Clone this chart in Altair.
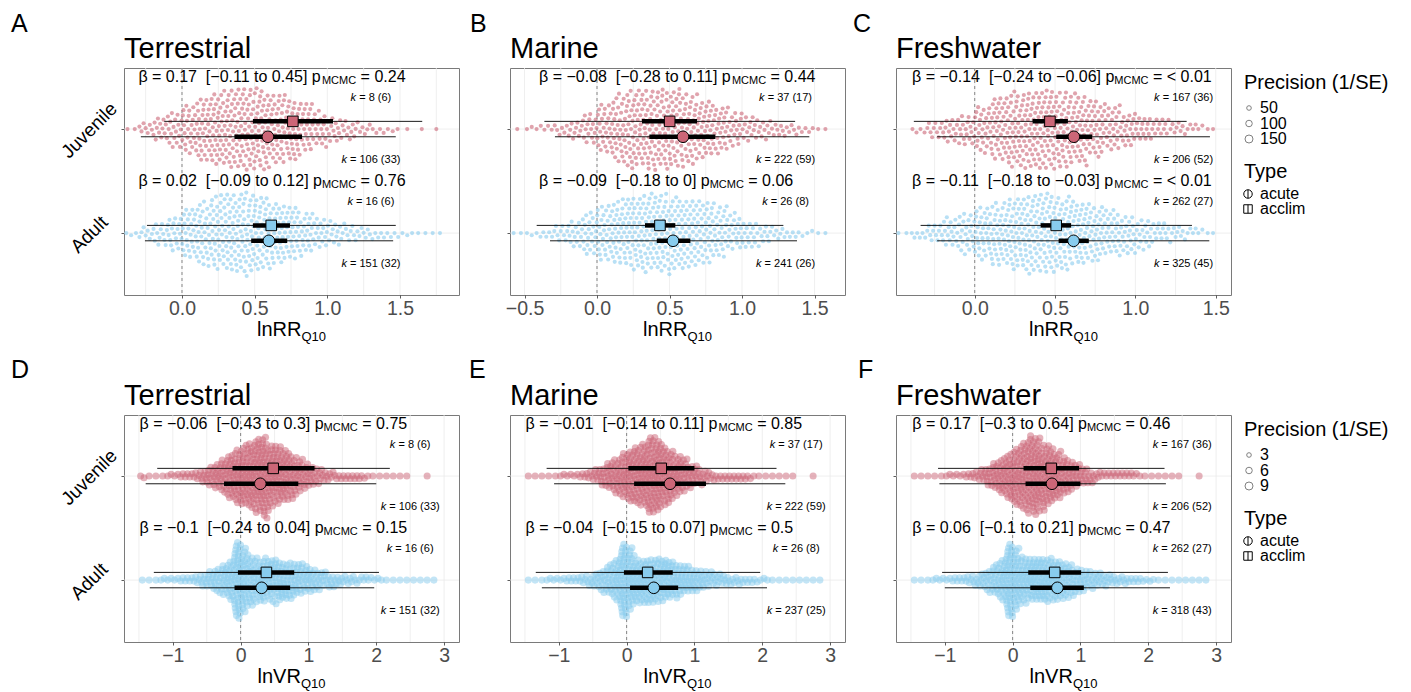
import altair as alt
import numpy as np
import pandas as pd

FONT = "Liberation Sans"

# ---------------- values ----------------
panel_letters = ["A", "B", "C", "D", "E", "F"]
habitats = ["Terrestrial", "Marine", "Freshwater", "Terrestrial", "Marine", "Freshwater"]
measures = ["lnRR", "lnRR", "lnRR", "lnVR", "lnVR", "lnVR"]
ages = ["Juvenile", "Adult"]
age_rows = [2, 1]

x_domains = [[-0.399, 1.906], [-0.600, 1.710], [-0.490, 1.595],
             [-1.72, 3.22], [-1.72, 3.22], [-1.72, 3.22]]
x_tick_values = [[0, 0.5, 1, 1.5], [-0.5, 0, 0.5, 1, 1.5], [0, 0.5, 1, 1.5],
                 [-1, 0, 1, 2, 3], [-1, 0, 1, 2, 3], [-1, 0, 1, 2, 3]]
grid_top_A = [-0.25, 0, 0.25, 0.5, 0.75, 1, 1.25, 1.5, 1.75]
grid_top_B = [-0.5, -0.25, 0, 0.25, 0.5, 0.75, 1, 1.25, 1.5]
grid_top_C = [-0.25, 0, 0.25, 0.5, 0.75, 1, 1.25, 1.5]
grid_bottom = [-1.5, -1, -0.5, 0, 0.5, 1, 1.5, 2, 2.5, 3]

# estimate, CI low, CI high, PI low, PI high  (panels A..F)
juv_acclim = [[0.763, 0.488, 1.039, -0.122, 1.653],
              [0.501, 0.310, 0.690, -0.363, 1.366],
              [0.468, 0.360, 0.580, -0.379, 1.319],
              [0.48, -0.12, 1.09, -1.23, 2.20],
              [0.51, 0.025, 1.00, -1.18, 2.21],
              [0.57, 0.16, 0.98, -1.10, 2.24]]
juv_acute = [[0.591, 0.361, 0.826, -0.283, 1.471],
             [0.593, 0.361, 0.816, -0.290, 1.464],
             [0.617, 0.507, 0.731, -0.234, 1.464],
             [0.29, -0.245, 0.85, -1.40, 2.00],
             [0.64, 0.11, 1.17, -1.07, 2.34],
             [0.58, 0.19, 1.00, -1.08, 2.26]]
adult_acclim = [[0.614, 0.488, 0.743, -0.241, 1.471],
                [0.434, 0.331, 0.540, -0.416, 1.285],
                [0.507, 0.410, 0.600, -0.337, 1.352],
                [0.38, -0.04, 0.79, -1.28, 2.04],
                [0.31, -0.04, 0.68, -1.34, 1.97],
                [0.62, 0.23, 1.01, -1.04, 2.29]]
adult_acute = [[0.598, 0.476, 0.724, -0.255, 1.453],
               [0.524, 0.412, 0.644, -0.324, 1.379],
               [0.615, 0.522, 0.710, -0.234, 1.460],
               [0.31, -0.09, 0.73, -1.34, 1.97],
               [0.40, 0.05, 0.76, -1.25, 2.07],
               [0.66, 0.26, 1.05, -1.00, 2.32]]

beta_juv = [0.17, -0.08, -0.14, -0.06, -0.01, 0.17]
beta_lo_juv = [-0.11, -0.28, -0.24, -0.43, -0.14, -0.3]
beta_hi_juv = [0.45, 0.11, -0.06, 0.3, 0.11, 0.64]
p_juv = ["0.24", "0.44", "< 0.01", "0.75", "0.85", "0.46"]
beta_adult = [0.02, -0.09, -0.11, -0.1, -0.04, 0.06]
beta_lo_adult = [-0.09, -0.18, -0.18, -0.24, -0.15, -0.1]
beta_hi_adult = [0.12, 0, -0.03, 0.04, 0.07, 0.21]
p_adult = ["0.76", "0.06", "< 0.01", "0.15", "0.5", "0.47"]

k_juv_acclim = [8, 37, 167, 8, 37, 167]
n_juv_acclim = [6, 17, 36, 6, 17, 36]
k_juv_acute = [106, 222, 206, 106, 222, 206]
n_juv_acute = [33, 59, 52, 33, 59, 52]
k_adult_acclim = [16, 26, 262, 16, 26, 262]
n_adult_acclim = [6, 8, 27, 6, 8, 27]
k_adult_acute = [151, 241, 325, 151, 237, 318]
n_adult_acute = [32, 26, 45, 32, 25, 43]

# effect-size counts per 0.1-wide bin (first bin centre given separately)
swarm_A_juv = [2, 7, 13, 18, 25, 33, 38, 40, 41, 41, 36, 33, 26, 18, 13, 10, 6, 4, 3, 1, 1, 1]
swarm_A_adult = [3, 7, 12, 18, 26, 32, 37, 40, 41, 37, 33, 29, 22, 16, 12, 9, 7, 5, 4, 3, 2, 2]
swarm_B_juv = [1, 3, 4, 6, 10, 16, 25, 34, 39, 40, 41, 39, 35, 30, 25, 18, 13, 10, 8, 6, 4, 2]
swarm_B_adult = [2, 3, 5, 9, 14, 22, 28, 34, 38, 41, 41, 38, 35, 31, 26, 19, 14, 10, 7, 5, 3, 2]
swarm_C_juv = [4, 10, 14, 17, 26, 36, 42, 44, 45, 42, 39, 32, 25, 20, 15, 11, 8, 6, 3]
swarm_C_adult = [2, 6, 11, 17, 22, 30, 36, 41, 44, 45, 41, 37, 32, 26, 22, 17, 12, 9, 6, 3]
swarm_D_juv = [2, 1, 1, 1, 2, 2, 3, 3, 4, 6, 9, 12, 16, 21, 25, 28, 31, 35, 38, 30, 27, 24,
               20, 16, 12, 9, 7, 5, 4, 3, 3, 3, 3, 2, 1, 1, 1, 1, 1, 1, 0, 0, 1]
swarm_D_adult = [1, 1, 1, 2, 2, 2, 3, 3, 4, 6, 8, 11, 14, 19, 38, 30, 22, 20, 20, 20, 20, 18,
                 17, 15, 13, 11, 9, 7, 6, 5, 4, 4, 3, 3, 2, 2, 1, 1, 1, 1, 1, 1, 1, 1]
swarm_E_juv = [1, 1, 1, 1, 1, 2, 2, 2, 3, 4, 6, 9, 13, 16, 20, 24, 27, 29, 36, 35, 28, 24,
               19, 15, 11, 8, 6, 4, 3, 3, 3, 3, 3, 2, 1, 1, 1, 1, 1, 1, 0, 0, 1]
swarm_E_adult = [1, 1, 1, 2, 2, 2, 3, 3, 4, 5, 7, 10, 14, 19, 37, 30, 22, 21, 21, 21, 20, 18,
                 16, 14, 12, 10, 8, 7, 6, 5, 4, 4, 3, 3, 2, 2, 1, 1, 1, 1, 1, 1, 1, 1]
swarm_F_juv = [1, 1, 1, 1, 1, 2, 2, 2, 3, 4, 6, 9, 13, 17, 21, 26, 30, 35, 36, 30, 27, 22,
               18, 14, 11, 8, 6, 4, 3, 3, 3, 3, 3, 2, 1, 1, 1, 1, 1, 1, 0, 0, 1]
swarm_F_adult = [1, 1, 1, 2, 2, 2, 3, 3, 4, 5, 7, 10, 14, 19, 37, 29, 22, 21, 21, 21, 21, 19,
                 17, 15, 12, 10, 8, 7, 6, 5, 4, 4, 3, 3, 2, 2, 1, 1, 1, 1, 1, 1, 1, 1]
swarm_juv_start = [-0.35, -0.55, -0.35, -1.45, -1.45, -1.45]
swarm_adult_start = [-0.35, -0.55, -0.45, -1.45, -1.45, -1.45]
SWARM_BIN = 0.1

precision_top = 40
precision_bottom = 7
legend_prec_top = [50, 100, 150]
legend_prec_bottom = [3, 6, 9]

# ---------------- layout / style ----------------
PW, PH = 335, 227
Y_DOM = [0.405, 2.587]
EST_DY = 0.074
beta_label_x = [-0.30, -0.40, -0.39, -1.49, -1.49, -1.48]
k_label_x = [1.30, 1.30, 1.30, 2.50, 2.50, 2.50]
letter_dx = [-113, -40, -43, -113, -41, -38]
letter_base = [-36, -36, -36, -37, -37, -37]
PINK, BLUE = "#CC6677", "#88CCEE"
NB = "\u00a0"

CW = {' ': 278, '\u00a0': 278, '.': 278, '=': 584, '[': 278, ']': 278, '(': 333, ')': 333,
      '\u2212': 584, '-': 333, '<': 584, 't': 278, 'o': 556, 'p': 556, 'k': 500,
      '\u03b2': 574, 'M': 833, 'C': 722, 'l': 222, 'n': 556, 'R': 722, 'V': 667, 'Q': 778}


def tw(s, fs):
    return sum(CW.get(ch, 556) for ch in s) / 1000.0 * fs


def fmt(v):
    s = str(int(v)) if float(v) == int(v) else str(v)
    return s.replace("-", "\u2212")


def bin_positions(start, counts):
    xs = []
    for j, c in enumerate(counts):
        centre = start + j * SWARM_BIN
        for i in range(c):
            xs.append(centre - SWARM_BIN / 2 + (i + 0.5) * SWARM_BIN / c)
    return np.array(xs)


def beeswarm(xpx, s):
    order = np.argsort(xpx, kind="stable")
    ys = np.zeros(len(xpx))
    px = np.empty(0)
    py = np.empty(0)
    s2 = s * s
    for k, idx in enumerate(order):
        x = xpx[idx]
        m = np.abs(px - x) < s
        nx, ny = px[m], py[m]
        if nx.size == 0:
            y = 0.0
        else:
            d = np.sqrt(np.maximum(s2 - (nx - x) ** 2, 0))
            c = np.concatenate(([0.0], ny + d, ny - d))
            sgn = 1 if k % 2 == 0 else -1
            key = np.abs(c) - 1e-6 * sgn * np.sign(c)
            c = c[np.argsort(key, kind="stable")]
            D = (nx[None, :] - x) ** 2 + (ny[None, :] - c[:, None]) ** 2
            ok = np.all(D >= s2 - 1e-6, axis=1)
            y = c[int(np.argmax(ok))]
        ys[idx] = y
        px = np.append(px, x)
        py = np.append(py, y)
    return ys


swarm_juv = [swarm_A_juv, swarm_B_juv, swarm_C_juv, swarm_D_juv, swarm_E_juv, swarm_F_juv]
swarm_adult = [swarm_A_adult, swarm_B_adult, swarm_C_adult, swarm_D_adult, swarm_E_adult, swarm_F_adult]
grids = [grid_top_A, grid_top_B, grid_top_C, grid_bottom, grid_bottom, grid_bottom]

color_scale = alt.Scale(domain=ages, range=[PINK, BLUE])
one = pd.DataFrame({"d": [0]})

PATH_ACUTE = "M -1 0 A 1 1 0 1 0 1 0 A 1 1 0 1 0 -1 0 Z M 0 -1 L 0 1"
PATH_ACCLIM = "M -1 -1 L 1 -1 L 1 1 L -1 1 Z M 0 -1 L 0 1"


def vtext(txt, x, y, fs, align="left", baseline="alphabetic", **kw):
    return alt.Chart(one).mark_text(text=txt, fontSize=fs, align=align, baseline=baseline,
                                    color="black", font=FONT, **kw).encode(
        x=alt.value(x), y=alt.value(y))


def make_panel(p):
    top = p < 3
    dom = x_domains[p]
    ppu = PW / (dom[1] - dom[0])
    ypu = PH / (Y_DOM[1] - Y_DOM[0])
    xscale = alt.Scale(domain=dom, nice=False, zero=False)
    yscale = alt.Scale(domain=Y_DOM, nice=False, zero=False)
    xaxis = alt.Axis(values=x_tick_values[p], format=".1f" if top else "d", title=None,
                     grid=False, labelFlush=False, labelOverlap=False, domain=False)
    yaxis = alt.Axis(values=[1, 2], labels=False, title=None, grid=False, domain=False)
    size_scale = alt.Scale(domain=[0, 150 if top else 9], range=[0, 64])

    def X(f):
        return alt.X(f, type="quantitative", scale=xscale, axis=xaxis)

    def Y(f):
        return alt.Y(f, type="quantitative", scale=yscale, axis=yaxis)

    layers = []
    layers.append(alt.Chart(pd.DataFrame({"g": grids[p]})).mark_rule(
        color="#EBEBEB", strokeWidth=0.8).encode(x=X("g"), y=alt.value(0), y2=alt.value(PH)))
    layers.append(alt.Chart(pd.DataFrame({"r": age_rows})).mark_rule(
        color="#EBEBEB", strokeWidth=0.8).encode(y=Y("r"), x=alt.value(0), x2=alt.value(PW)))
    layers.append(alt.Chart(pd.DataFrame({"z": [0.0]})).mark_rule(
        color="#555555", strokeWidth=0.7, strokeDash=[3, 3]).encode(
        x=X("z"), y=alt.value(0), y2=alt.value(PH)))

    # swarm
    spacing = 5.3 if top else 3.8
    prec = precision_top if top else precision_bottom
    rows = []
    for a, age in enumerate(ages):
        counts = (swarm_juv if a == 0 else swarm_adult)[p]
        start = (swarm_juv_start if a == 0 else swarm_adult_start)[p]
        xs = bin_positions(start, counts)
        yp = beeswarm(xs * ppu, spacing)
        for xv, yv in zip(xs, yp):
            rows.append({"x": float(xv), "y": age_rows[a] + float(yv) / ypu, "age": age, "prec": prec})
    sw = pd.DataFrame(rows)
    layers.append(alt.Chart(sw).mark_circle(opacity=0.6 if top else 0.5, strokeWidth=0).encode(
        x=X("x"), y=Y("y"),
        color=alt.Color("age:N", scale=color_scale, legend=None),
        size=alt.Size("prec:Q", scale=size_scale, legend=None)))

    # estimates
    er = []
    groups = [(0, juv_acclim, juv_acute), (1, adult_acclim, adult_acute)]
    for a, g_acclim, g_acute in groups:
        for typ, vals, sgn in [("acclim", g_acclim[p], 1), ("acute", g_acute[p], -1)]:
            er.append(dict(age=ages[a], type=typ, y=age_rows[a] + sgn * EST_DY, est=vals[0],
                           cl=vals[1], ch=vals[2], pl=vals[3], ph=vals[4]))
    ed = pd.DataFrame(er)
    layers.append(alt.Chart(ed).mark_rule(color="black", strokeWidth=0.9).encode(
        x=X("pl"), x2="ph", y=Y("y")))
    layers.append(alt.Chart(ed).mark_rule(color="black", strokeWidth=4.5).encode(
        x=X("cl"), x2="ch", y=Y("y")))
    layers.append(alt.Chart(ed[ed["type"] == "acclim"]).mark_point(
        shape="square", size=112, filled=True, stroke="black", strokeWidth=1, opacity=1).encode(
        x=X("est"), y=Y("y"), fill=alt.Fill("age:N", scale=color_scale, legend=None)))
    layers.append(alt.Chart(ed[ed["type"] == "acute"]).mark_point(
        shape="circle", size=135, filled=True, stroke="black", strokeWidth=1, opacity=1).encode(
        x=X("est"), y=Y("y"), fill=alt.Fill("age:N", scale=color_scale, legend=None)))

    # beta labels
    sp16 = tw(" ", 16)
    sp11 = tw(" ", 11)
    bt = []
    stats = [(0, beta_juv, beta_lo_juv, beta_hi_juv, p_juv),
             (1, beta_adult, beta_lo_adult, beta_hi_adult, p_adult)]
    for a, b, lo, hi, pv in stats:
        main = "\u03b2 = " + fmt(b[p]) + NB + NB + "[" + fmt(lo[p]) + " to " + fmt(hi[p]) + "] p"
        wm = tw(main, 16)
        ws = tw("MCMC", 11)
        rest = "= " + pv[p]
        x0 = beta_label_x[p]
        bt.append(dict(y=age_rows[a] + 0.5, main=main, sub="MCMC", rest=rest,
                       xm=x0, xs=x0 + wm / ppu, xr=x0 + (wm + ws + sp16) / ppu))
    bd = pd.DataFrame(bt)
    layers.append(alt.Chart(bd).mark_text(align="left", baseline="middle", fontSize=16, color="black").encode(
        x=X("xm"), y=Y("y"), text="main:N"))
    layers.append(alt.Chart(bd).mark_text(align="left", baseline="middle", fontSize=11, dy=4, color="black").encode(
        x=X("xs"), y=Y("y"), text="sub:N"))
    layers.append(alt.Chart(bd).mark_text(align="left", baseline="middle", fontSize=16, color="black").encode(
        x=X("xr"), y=Y("y"), text="rest:N"))

    # k labels
    kt = []
    kgroups = [(0, k_juv_acclim, n_juv_acclim, 1), (0, k_juv_acute, n_juv_acute, -1),
               (1, k_adult_acclim, n_adult_acclim, 1), (1, k_adult_acute, n_adult_acute, -1)]
    for a, kk, nn, sgn in kgroups:
        rest = "= " + str(kk[p]) + " (" + str(nn[p]) + ")"
        wk = 0.5 * 11
        wr = tw(rest, 11) + sp11
        left = k_label_x[p] - (wk + wr) / 2 / ppu
        kt.append(dict(y=age_rows[a] + sgn * 0.30, k="k", rest=rest, xk=left,
                       xr=left + (wk + sp11) / ppu))
    kd = pd.DataFrame(kt)
    layers.append(alt.Chart(kd).mark_text(align="left", baseline="middle", fontSize=11,
                                          fontStyle="italic", color="black").encode(
        x=X("xk"), y=Y("y"), text="k:N"))
    layers.append(alt.Chart(kd).mark_text(align="left", baseline="middle", fontSize=11, color="black").encode(
        x=X("xr"), y=Y("y"), text="rest:N"))

    # row labels
    if p % 3 == 0:
        layers.append(alt.Chart(pd.DataFrame({"age": ages, "r": age_rows})).mark_text(
            angle=315, align="center", baseline="middle", fontSize=19, dy=2, color="black").encode(
            x=alt.value(-36), y=Y("r"), text="age:N"))

    # titles, panel letters, axis title
    layers.append(vtext(habitats[p], 0, -10.5, 29))
    layers.append(vtext(panel_letters[p], letter_dx[p], letter_base[p], 25))
    m = measures[p]
    w1 = tw(m, 20)
    w2 = tw("Q10", 13)
    x1 = PW / 2 - (w1 + w2) / 2
    layers.append(vtext(m, x1, PH + 41, 20))
    layers.append(vtext("Q10", x1 + w1, PH + 46, 13))

    # legend
    if p % 3 == 2:
        vals = legend_prec_top if top else legend_prec_bottom
        layers.append(vtext("Precision (1/SE)", PW + 13, 15, 20, baseline="middle"))
        for i, v in enumerate(vals):
            yy = 40 + i * 15.5
            layers.append(alt.Chart(pd.DataFrame({"prec": [v]})).mark_point(
                shape="circle", filled=False, stroke="#808080", strokeWidth=1, opacity=1).encode(
                x=alt.value(PW + 18), y=alt.value(yy),
                size=alt.Size("prec:Q", scale=size_scale, legend=None)))
            layers.append(vtext(str(v), PW + 29, yy, 16, baseline="middle"))
        layers.append(vtext("Type", PW + 13, 104, 20, baseline="middle"))
        for lab, path, yy in [("acute", PATH_ACUTE, 126), ("acclim", PATH_ACCLIM, 141)]:
            layers.append(alt.Chart(one).mark_point(
                shape=path, size=72, filled=False, stroke="black", strokeWidth=1, opacity=1).encode(
                x=alt.value(PW + 17), y=alt.value(yy)))
            layers.append(vtext(lab, PW + 29, yy, 16, baseline="middle"))

    return alt.layer(*layers).properties(width=PW, height=PH)


panels = [make_panel(p) for p in range(6)]

chart = alt.concat(*panels, columns=3, spacing={"row": 120, "column": 51}, bounds="flush").resolve_scale(
    x="independent", y="independent", color="independent", fill="independent", size="independent"
).configure(font=FONT, background="white").configure_view(
    stroke="#7a7a7a", strokeWidth=1
).configure_axis(
    labelFont=FONT, labelFontSize=19.5, labelColor="#4D4D4D", tickColor="#333333",
    tickSize=3, tickWidth=0.8, labelPadding=1.6, domain=False, grid=False
).properties(padding={"left": 10, "top": 11, "right": 5, "bottom": 0})

chart.save("out.html", embed_options={"renderer": "svg", "actions": False})
